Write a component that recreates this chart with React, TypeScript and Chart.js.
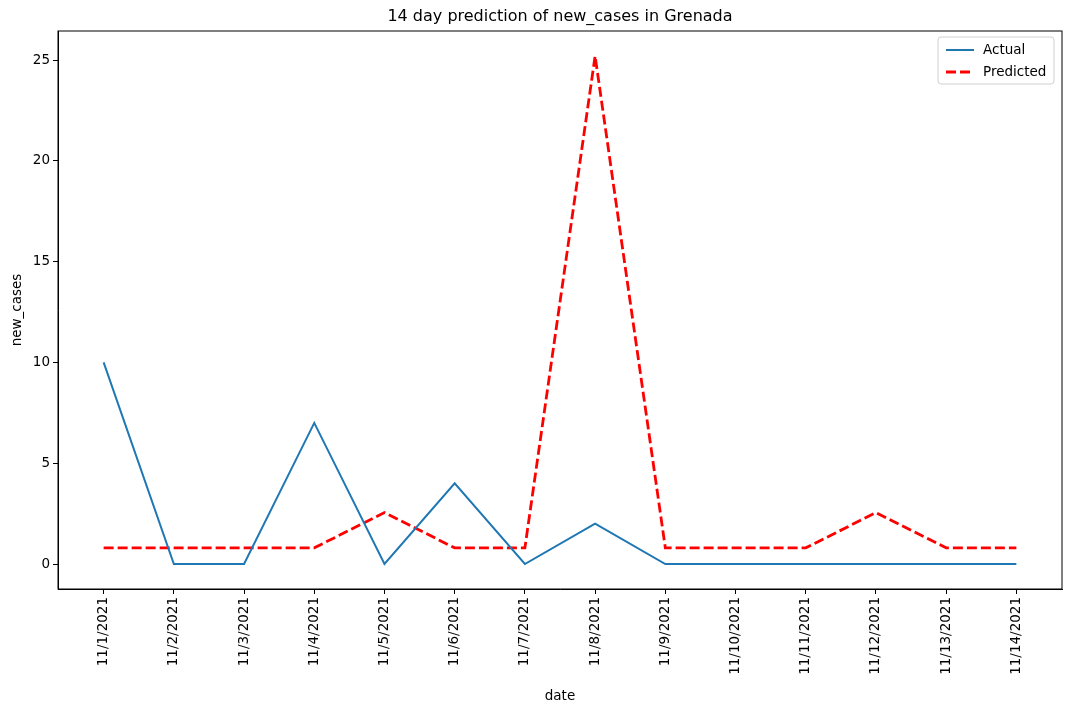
import { useEffect, useRef } from 'react';
import { Chart, registerables } from 'chart.js';

Chart.register(...registerables);

const dates = [
  '11/1/2021', '11/2/2021', '11/3/2021', '11/4/2021', '11/5/2021', '11/6/2021', '11/7/2021',
  '11/8/2021', '11/9/2021', '11/10/2021', '11/11/2021', '11/12/2021', '11/13/2021', '11/14/2021',
];
const actual = [10, 0, 0, 7, 0, 4, 0, 2, 0, 0, 0, 0, 0, 0];
const predicted = [0.8, 0.8, 0.8, 0.8, 2.55, 0.8, 0.8, 25.2, 0.8, 0.8, 0.8, 2.55, 0.8, 0.8];
const yTicks = [0, 5, 10, 15, 20, 25];

const FONT = 'DejaVu Sans';

const framePlugin = {
  id: 'frame',
  afterDraw(chart: Chart) {
    const { ctx, chartArea: a } = chart;
    ctx.save();
    ctx.strokeStyle = '#000';
    ctx.lineWidth = 1;
    ctx.strokeRect(a.left, a.top, a.right - a.left, a.bottom - a.top);
    // title
    ctx.fillStyle = '#000';
    ctx.font = `16px "${FONT}"`;
    ctx.textAlign = 'center';
    ctx.textBaseline = 'middle';
    ctx.fillText('14 day prediction of new_cases in Grenada', (a.left + a.right) / 2, 17);
    // legend
    const lx = 938, ly = 37, lw = 116, lh = 47;
    ctx.fillStyle = 'rgba(255,255,255,0.8)';
    ctx.strokeStyle = '#d0d0d0';
    ctx.beginPath();
    ctx.roundRect(lx, ly, lw, lh, 3);
    ctx.fill();
    ctx.stroke();
    ctx.font = `13.5px "${FONT}"`;
    ctx.textAlign = 'left';
    ctx.fillStyle = '#000';
    ctx.lineWidth = 2;
    ctx.strokeStyle = '#1f77b4';
    ctx.beginPath(); ctx.moveTo(946, 50); ctx.lineTo(974, 50); ctx.stroke();
    ctx.fillText('Actual', 983, 50);
    ctx.lineWidth = 2.8;
    ctx.strokeStyle = '#ff0000';
    ctx.setLineDash([10, 4]);
    ctx.beginPath(); ctx.moveTo(946, 72); ctx.lineTo(974, 72); ctx.stroke();
    ctx.setLineDash([]);
    ctx.fillText('Predicted', 983, 72);
    ctx.restore();
  },
};

export default function App() {
  const canvasRef = useRef<HTMLCanvasElement>(null);

  useEffect(() => {
    document.body.style.margin = '0';
    const canvas = canvasRef.current;
    if (!canvas) return;
    const chart = new Chart(canvas, {
      type: 'line',
      data: {
        datasets: [
          {
            label: 'Actual',
            data: actual.map((v, i) => ({ x: i, y: v })),
            borderColor: '#1f77b4',
            borderWidth: 2,
            pointRadius: 0,
            tension: 0,
          },
          {
            label: 'Predicted',
            data: predicted.map((v, i) => ({ x: i, y: v })),
            borderColor: '#ff0000',
            borderWidth: 2.8,
            borderDash: [10, 4],
            pointRadius: 0,
            tension: 0,
          },
        ],
      },
      options: {
        animation: false,
        responsive: false,
        layout: { padding: { left: 5, right: 8, top: 31, bottom: 0 } },
        plugins: { legend: { display: false }, tooltip: { enabled: false }, title: { display: false } },
        scales: {
          x: {
            type: 'linear',
            min: -0.65,
            max: 13.65,
            afterBuildTicks: (s: any) => { s.ticks = dates.map((_, i) => ({ value: i })); },
            afterFit: (s: any) => { s.height = 120; },
            grid: { drawOnChartArea: false, tickLength: 5, color: '#000' },
            border: { color: '#000' },
            ticks: {
              color: '#000',
              font: { family: FONT, size: 13.5 },
              minRotation: 90,
              maxRotation: 90,
              autoSkip: false,
              callback: (v: any) => dates[v] ?? '',
            },
            title: { display: true, text: 'date', color: '#000', font: { family: FONT, size: 13.5 }, padding: { top: 0 } },
          },
          y: {
            min: -1.24,
            max: 26.44,
            afterBuildTicks: (s: any) => { s.ticks = yTicks.map(v => ({ value: v })); },
            afterFit: (s: any) => { s.width = 53; },
            grid: { drawOnChartArea: false, tickLength: 5, color: '#000' },
            border: { color: '#000' },
            ticks: { color: '#000', font: { family: FONT, size: 13.5 } },
            title: { display: true, text: 'new_cases', color: '#000', font: { family: FONT, size: 13.5 } },
          },
        },
      },
      plugins: [framePlugin],
    } as any);
    return () => chart.destroy();
  }, []);

  return <canvas ref={canvasRef} width={1070} height={709} style={{ display: 'block' }} />;
}
